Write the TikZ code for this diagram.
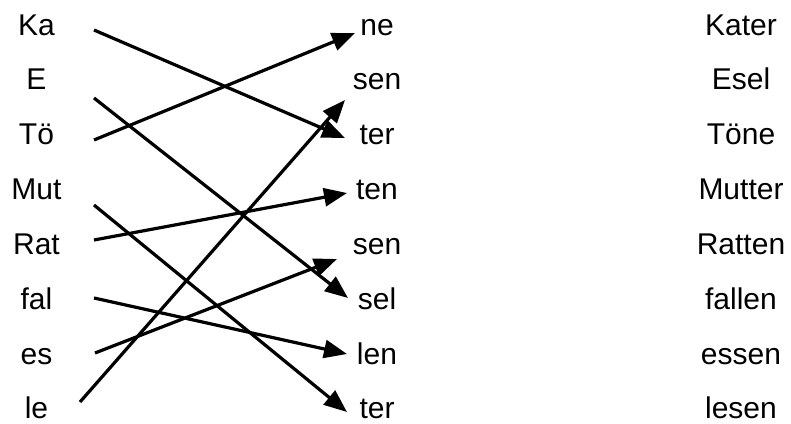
\documentclass[tikz,border=0pt]{standalone}
\usepackage{fontspec}
\setmainfont{Liberation Sans}
\usetikzlibrary{arrows.meta}
\tikzset{>={Triangle[length=23pt,width=18pt]}}
\tikzset{word/.style={anchor=base,inner sep=0pt,font=\fontsize{30}{36}\selectfont},
         conn/.style={->,line width=3.2pt}}

\begin{document}
\begin{tikzpicture}[x=1pt,y=-1pt]
    \useasboundingbox (0,0) rectangle (791,423);
    % the three columns
    \foreach \w [count=\i] in {Ka,E,Tö,Mut,Rat,fal,es,le}
        \node[word] (l\i) at (36.5,{35+54.85*(\i-1)}) {\w};
    \foreach \w [count=\i] in {ne,sen,ter,ten,sen,sel,len,ter}
        \node[word] (m\i) at (377,{35+54.85*(\i-1)}) {\w};
    \foreach \w [count=\i] in {Kater,Esel,Töne,Mutter,Ratten,fallen,essen,lesen}
        \node[word] (r\i) at (741,{35+54.85*(\i-1)}) {\w};
    % line ends
    \coordinate (from1) at (94,30);
    \coordinate (from2) at (94,98);
    \coordinate (from3) at (94,140);
    \coordinate (from4) at (94,205);
    \coordinate (from5) at (94,240);
    \coordinate (from6) at (94,298);
    \coordinate (from7) at (95,353);
    \coordinate (from8) at (80,402);
    \coordinate (to1) at (355,33);
    \coordinate (to2) at (345,100);
    \coordinate (to3) at (345,138);
    \coordinate (to4) at (347,193);
    \coordinate (to5) at (337,259);
    \coordinate (to6) at (348,298);
    \coordinate (to7) at (347,354);
    \coordinate (to8) at (347,412);
    \draw[conn] (from1) -- (to3);
    \draw[conn] (from2) -- (to6);
    \draw[conn] (from3) -- (to1);
    \draw[conn] (from4) -- (to8);
    \draw[conn] (from5) -- (to4);
    \draw[conn] (from6) -- (to7);
    \draw[conn] (from7) -- (to5);
    \draw[conn] (from8) -- (to2);
\end{tikzpicture}
\end{document}
